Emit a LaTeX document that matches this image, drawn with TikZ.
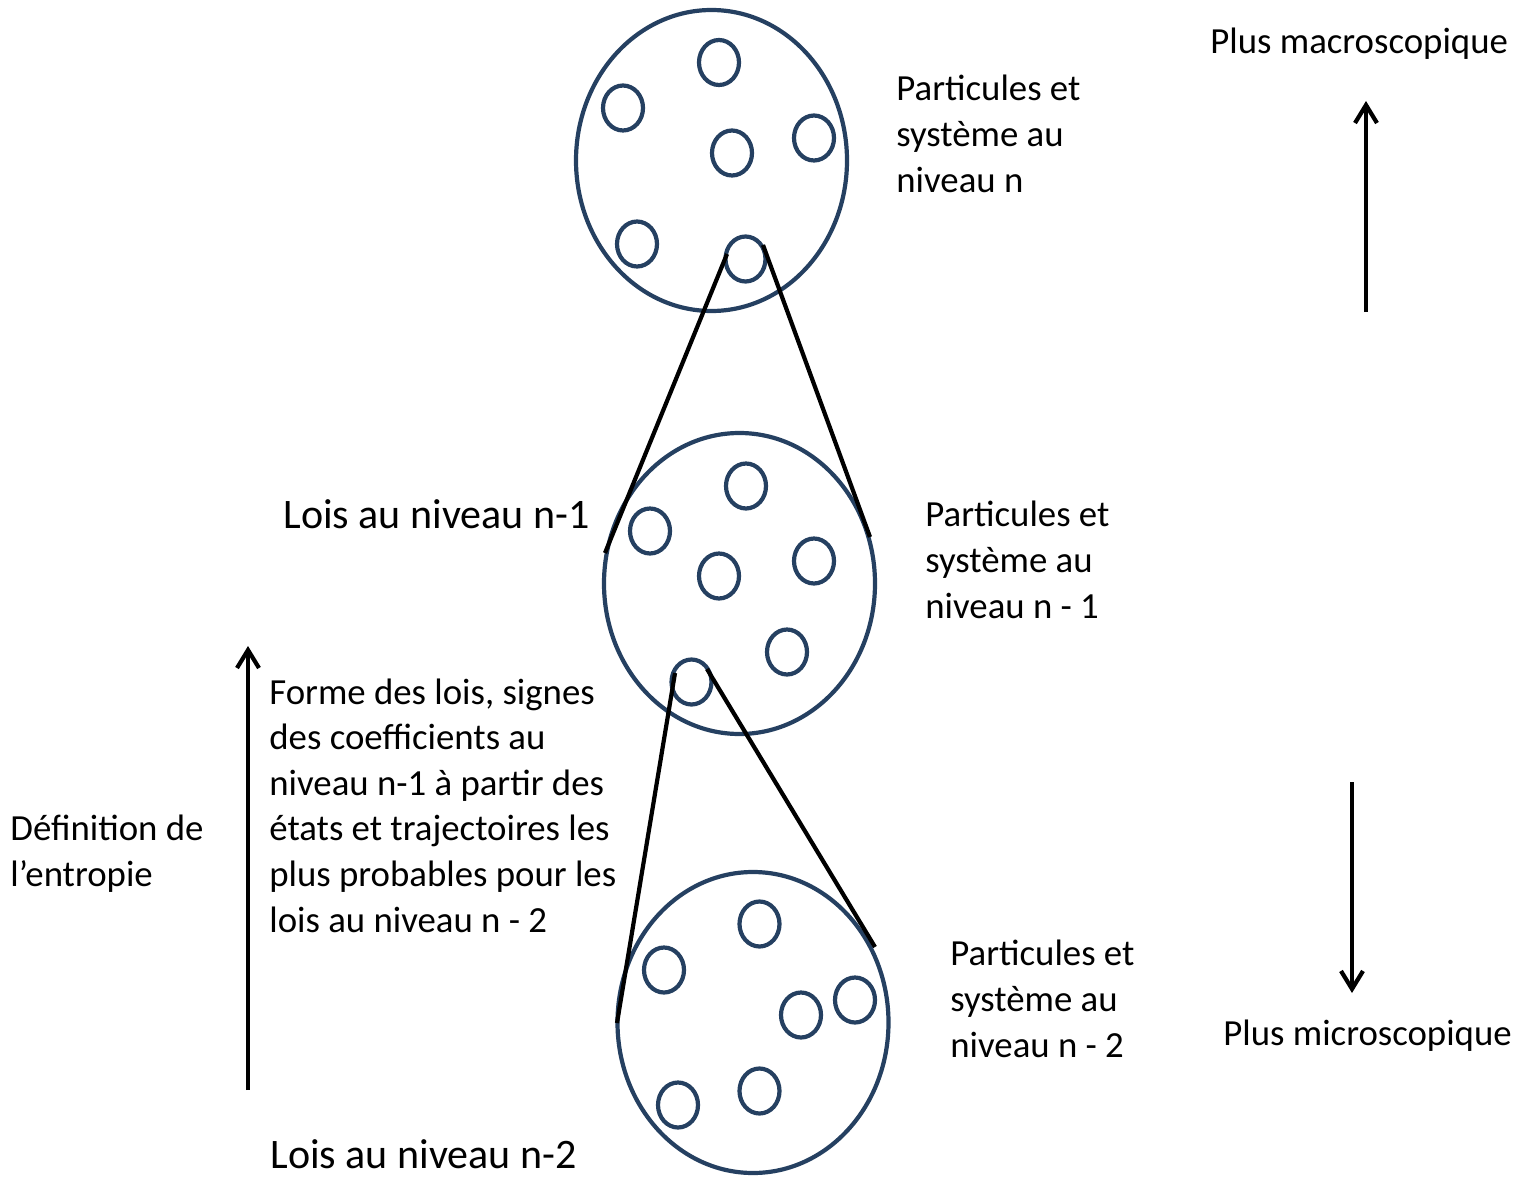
\documentclass[tikz,border=0pt]{standalone}
\usepackage{fontspec}
\setmainfont{Carlito}
\usetikzlibrary{shapes.geometric,arrows.meta}
\definecolor{ringblue}{HTML}{254061}
\tikzset{
  bigring/.style={ellipse, draw=ringblue, line width=2.1pt, minimum width=135.5pt, minimum height=150.5pt, inner sep=0pt, outer sep=0pt},
  ring/.style={ellipse, draw=ringblue, line width=2.1pt, minimum width=20pt, minimum height=22.5pt, inner sep=0pt, outer sep=0pt},
  zoomline/.style={black, line width=2.1pt},
  scalearrow/.style={black, line width=2.1pt, -{Straight Barb[length=9pt,width=11pt]}},
  txt/.style={anchor=base west, inner sep=0pt, align=left, font=\fontsize{18.4}{23}\selectfont},
  txtb/.style={anchor=base west, inner sep=0pt, align=left, font=\fontsize{18.4}{22.8}\selectfont},
  bigtxt/.style={anchor=base west, inner sep=0pt, font=\fontsize{21}{25}\selectfont},
}
\begin{document}
\begin{tikzpicture}[x=0.5pt,y=-0.5pt]
\useasboundingbox (0,0) rectangle (1533,1177);
% level n
\node[bigring] (C1) at (711.5,160.5) {};
\node[ring] (p11) at (719,62.5) {};
\node[ring] (p12) at (623,108) {};
\node[ring] (p13) at (732,153) {};
\node[ring] (p14) at (814,138) {};
\node[ring] (p15) at (637,244) {};
\node[ring] (p16) at (745.5,259) {};
% level n-1
\node[bigring] (C2) at (739.5,583.5) {};
\node[ring] (p21) at (746,486) {};
\node[ring] (p22) at (650,531) {};
\node[ring] (p23) at (719,576) {};
\node[ring] (p24) at (814,561) {};
\node[ring] (p25) at (787,652) {};
\node[ring] (p26) at (691.5,682) {};
% level n-2
\node[bigring] (C3) at (753,1022.5) {};
\node[ring] (p31) at (759.5,924) {};
\node[ring] (p32) at (664,970) {};
\node[ring] (p33) at (801,1015) {};
\node[ring] (p34) at (855,1000) {};
\node[ring] (p35) at (678,1105) {};
\node[ring] (p36) at (759.5,1091) {};
% zoom lines
\coordinate (z1a) at (727,254);
\coordinate (z1b) at (605,553);
\coordinate (z2a) at (763,245);
\coordinate (z2b) at (870,537);
\coordinate (z3a) at (675,673);
\coordinate (z3b) at (617,1023);
\coordinate (z4a) at (707,669);
\coordinate (z4b) at (875,947);
\draw[zoomline] (z1a) -- (z1b);
\draw[zoomline] (z2a) -- (z2b);
\draw[zoomline] (z3a) -- (z3b);
\draw[zoomline] (z4a) -- (z4b);
% scale arrows
\coordinate (u1) at (1366,312);
\coordinate (u2) at (1366,101);
\coordinate (d1) at (1352,782);
\coordinate (d2) at (1352,993);
\coordinate (l1) at (248,1090);
\coordinate (l2) at (248,646);
\draw[scalearrow] (u1) -- (u2);
\draw[scalearrow] (d1) -- (d2);
\draw[scalearrow] (l1) -- (l2);
% texts (base anchor = baseline of last line)
\node[txt] (t1) at (896,192) {Particules et\\système au\\niveau n};
\node[txt] (t2) at (925,618) {Particules et\\système au\\niveau n - 1};
\node[txt] (t3) at (950,1057) {Particules et\\système au\\niveau n - 2};
\node[txt] (tmac) at (1210,54) {Plus macroscopique};
\node[txt] (tmic) at (1223,1045) {Plus microscopique};
\node[bigtxt] (tl1) at (283,528) {Lois au niveau n-1};
\node[bigtxt] (tl2) at (270,1168) {Lois au niveau n-2};
\node[txtb] (tdef) at (10,886) {Définition de\\l’entropie};
\node[txtb] (tforme) at (269,932) {Forme des lois, signes\\des coefficients au\\niveau n-1 à partir des\\états et trajectoires les\\plus probables pour les\\lois au niveau n - 2};
\end{tikzpicture}
\end{document}
